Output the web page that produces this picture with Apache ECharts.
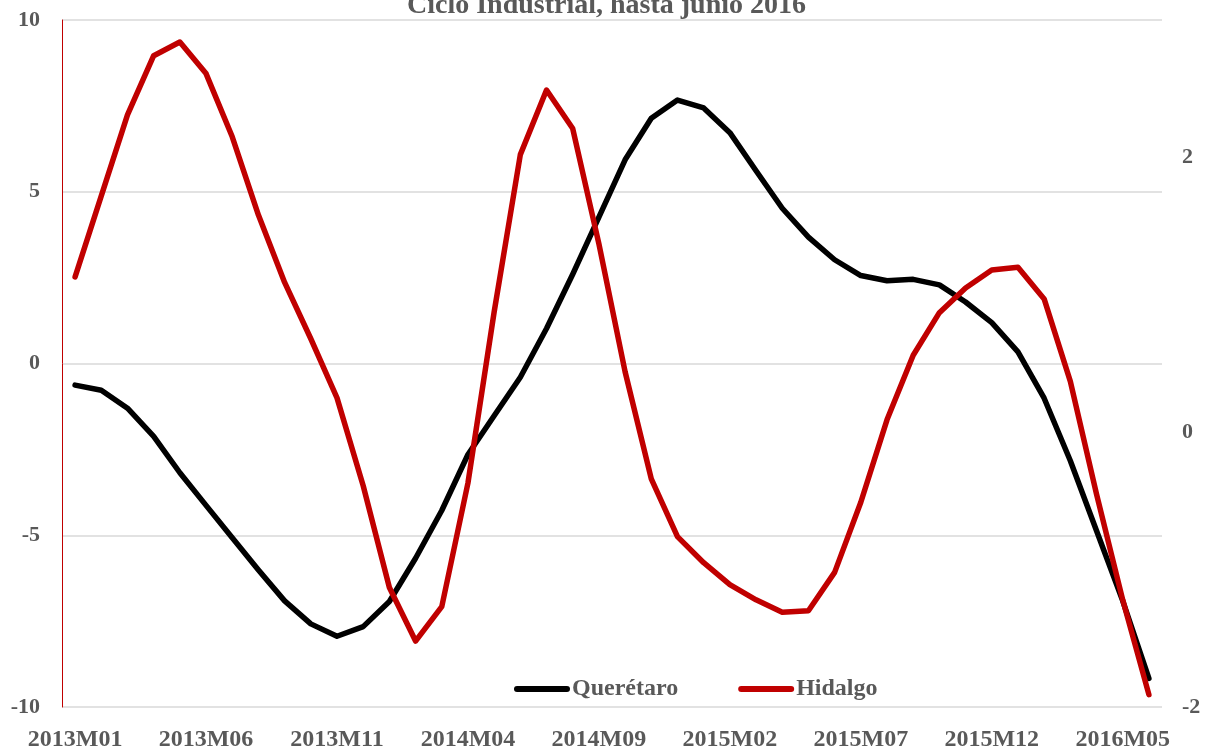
<!DOCTYPE html>
<html>
<head>
<meta charset="utf-8">
<script src="https://cdn.jsdelivr.net/npm/echarts@6/dist/echarts.min.js"></script>
<style>
  html, body { margin: 0; padding: 0; background: #ffffff; }
  #chart { width: 1213px; height: 752px; }
</style>
</head>
<body>
<div id="chart"></div>
<script>
const titleText = 'Ciclo Industrial, hasta junio 2016';
const categories = [
  '2013M01','2013M02','2013M03','2013M04','2013M05','2013M06','2013M07','2013M08','2013M09','2013M10','2013M11','2013M12',
  '2014M01','2014M02','2014M03','2014M04','2014M05','2014M06','2014M07','2014M08','2014M09','2014M10','2014M11','2014M12',
  '2015M01','2015M02','2015M03','2015M04','2015M05','2015M06','2015M07','2015M08','2015M09','2015M10','2015M11','2015M12',
  '2016M01','2016M02','2016M03','2016M04','2016M05','2016M06'
];
const seriesNames = ['Querétaro', 'Hidalgo'];
// Querétaro (left axis)
const queretaro = [
  -0.63, -0.78, -1.30, -2.12, -3.18, -4.13, -5.07, -6.01, -6.91, -7.58, -7.94, -7.66,
  -6.93, -5.67, -4.28, -2.65, -1.52, -0.40, 1.02, 2.60, 4.26, 5.93, 7.14, 7.67,
  7.44, 6.72, 5.61, 4.52, 3.68, 3.02, 2.56, 2.41, 2.45, 2.29, 1.79, 1.19,
  0.34, -1.01, -2.83, -4.87, -6.91, -9.17
];
// Hidalgo (right axis)
const hidalgo = [
  1.13, 1.72, 2.31, 2.74, 2.84, 2.61, 2.15, 1.58, 1.09, 0.68, 0.25, -0.39,
  -1.13, -1.52, -1.27, -0.37, 0.875, 2.02, 2.49, 2.21, 1.37, 0.44, -0.34, -0.76,
  -0.95, -1.11, -1.22, -1.31, -1.30, -1.02, -0.51, 0.09, 0.56, 0.87, 1.05, 1.18,
  1.20, 0.97, 0.37, -0.45, -1.22, -1.91
];
const leftTicks = { min: -10, max: 10, interval: 5 };
const rightTicks = { min: -2, max: 3, interval: 2, shown: [-2, 0, 2] };

const FONT = '"Liberation Serif", "DejaVu Serif", serif';
const TXT = '#595959';
const LEGEND_ICON = 'path://M3,0 L52,0 A3,3 0 0 1 52,6 L3,6 A3,3 0 0 1 3,0 Z';

const chart = echarts.init(document.getElementById('chart'), null, { renderer: 'canvas' });
chart.setOption({
  backgroundColor: '#ffffff',
  animation: false,
  title: {
    text: titleText,
    left: 'center',
    top: -13,
    textStyle: { fontFamily: FONT, fontSize: 28, fontWeight: 'bold', color: TXT }
  },
  legend: {
    data: seriesNames.map(n => ({ name: n, icon: LEGEND_ICON })),
    left: 509,
    top: 672,
    itemWidth: 56,
    itemHeight: 6,
    itemGap: 60,
    symbolKeepAspect: false,
    textStyle: { fontFamily: FONT, fontSize: 24, fontWeight: 'bold', color: TXT, padding: [0, 0, 0, -3] }
  },
  grid: { left: 62, right: 51, top: 20, bottom: 44, containLabel: false },
  xAxis: {
    type: 'category',
    data: categories,
    boundaryGap: true,
    axisLine: { show: false },
    axisTick: { show: false },
    axisLabel: {
      interval: 4,
      margin: 21,
      fontFamily: FONT, fontSize: 24, fontWeight: 'bold', color: TXT
    },
    splitLine: { show: false }
  },
  yAxis: [
    {
      type: 'value',
      min: leftTicks.min, max: leftTicks.max, interval: leftTicks.interval,
      axisLine: { show: true, lineStyle: { color: '#c00000', width: 1 } },
      axisTick: { show: false },
      axisLabel: { margin: 22, fontFamily: FONT, fontSize: 22, fontWeight: 'bold', color: TXT },
      splitLine: { show: true, lineStyle: { color: '#d9d9d9', width: 1.5 } }
    },
    {
      type: 'value',
      min: rightTicks.min, max: rightTicks.max, interval: rightTicks.interval,
      position: 'right',
      axisLine: { show: false },
      axisTick: { show: false },
      splitLine: { show: false },
      axisLabel: {
        margin: 20, fontFamily: FONT, fontSize: 22, fontWeight: 'bold', color: TXT,
        formatter: v => (rightTicks.shown.indexOf(v) >= 0 ? String(v) : '')
      }
    }
  ],
  series: [
    {
      name: seriesNames[0], type: 'line', yAxisIndex: 0, data: queretaro,
      symbol: 'none', smooth: false,
      lineStyle: { color: '#000000', width: 5.5, cap: 'round', join: 'round' },
      itemStyle: { color: '#000000' }
    },
    {
      name: seriesNames[1], type: 'line', yAxisIndex: 1, data: hidalgo,
      symbol: 'none', smooth: false,
      lineStyle: { color: '#c00000', width: 5.5, cap: 'round', join: 'round' },
      itemStyle: { color: '#c00000' }
    }
  ]
});
</script>
</body>
</html>
